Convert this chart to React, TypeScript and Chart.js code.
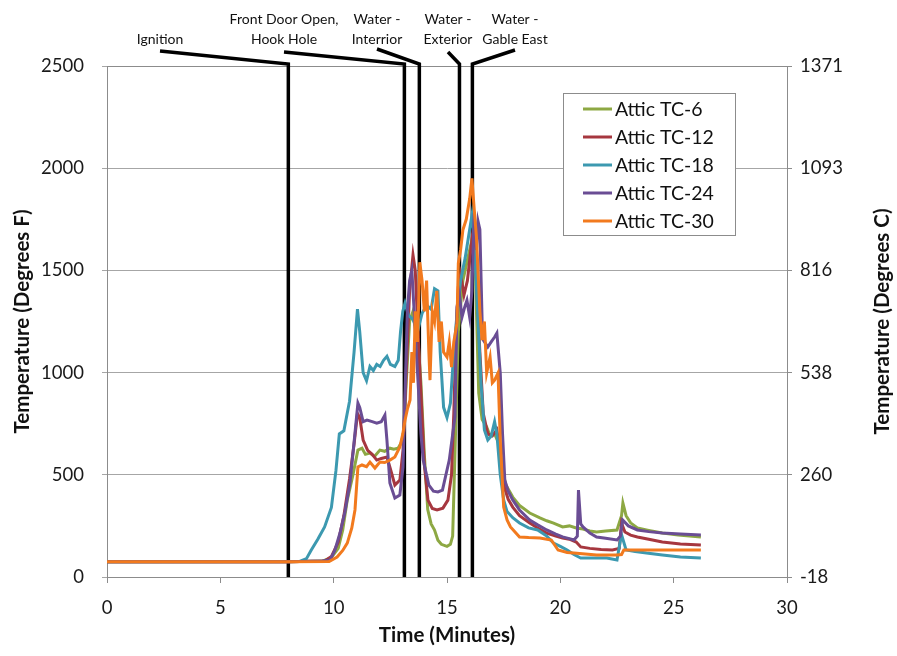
import React, { useEffect, useRef } from "react";
import { Chart, registerables } from "chart.js";

Chart.register(...registerables);

// ---------- data (time in minutes, temperature in °F) ----------
const tc6Time = [0, 8, 9.5, 9.9, 10.2, 10.4, 10.6, 10.85, 11.07, 11.25, 11.4, 11.6, 11.8, 12.04, 12.25, 12.48, 12.65, 12.84, 13.0, 13.1, 13.2, 13.35, 13.5, 13.6, 13.72, 13.85, 14.0, 14.15, 14.3, 14.45, 14.6, 14.75, 15.0, 15.15, 15.25, 15.3, 15.4, 15.5, 15.7, 15.9, 16.1, 16.25, 16.4, 16.55, 16.75, 16.9, 17.1, 17.3, 17.45, 17.6, 17.9, 18.2, 18.65, 19.1, 19.4, 19.7, 20.1, 20.4, 20.7, 21.0, 21.3, 21.6, 22.0, 22.5, 22.7, 22.76, 22.9, 23.1, 23.4, 23.9, 24.5, 25.2, 26.2];
const tc6Temp = [75, 75, 78, 95, 140, 230, 376, 500, 621, 630, 600, 606, 590, 621, 615, 630, 625, 630, 660, 720, 950, 1250, 1300, 1220, 1160, 950, 600, 330, 260, 230, 180, 160, 150, 160, 200, 400, 800, 1200, 1450, 1550, 1650, 1500, 900, 770, 734, 690, 700, 650, 520, 450, 391, 350, 313, 289, 275, 264, 245, 250, 240, 235, 225, 220, 225, 230, 300, 362, 300, 265, 240, 228, 215, 205, 196];

const tc12Time = [0, 8, 9.6, 9.9, 10.2, 10.45, 10.7, 10.9, 11.05, 11.15, 11.3, 11.5, 11.7, 11.9, 12.1, 12.35, 12.5, 12.7, 12.92, 13.06, 13.2, 13.35, 13.5, 13.6, 13.7, 13.85, 14.0, 14.16, 14.35, 14.56, 14.82, 15.04, 15.2, 15.3, 15.4, 15.5, 15.6, 15.75, 15.9, 16.05, 16.15, 16.3, 16.45, 16.6, 16.8, 17.0, 17.2, 17.35, 17.5, 17.7, 17.9, 18.2, 18.65, 19.0, 19.4, 19.8, 20.1, 20.4, 20.7, 20.9, 21.3, 21.8, 22.3, 22.6, 22.7, 22.85, 23.1, 23.4, 23.9, 24.5, 25.3, 26.2];
const tc12Temp = [75, 75, 78, 100, 170, 300, 480, 650, 800, 780, 670, 620, 600, 572, 580, 587, 530, 450, 474, 621, 1000, 1400, 1575, 1500, 1250, 900, 550, 376, 335, 328, 337, 376, 500, 800, 1200, 1420, 1480, 1380, 1450, 1600, 1700, 1450, 1100, 800, 700, 690, 720, 600, 450, 380, 342, 300, 264, 240, 215, 200, 191, 185, 171, 147, 140, 135, 132, 140, 264, 220, 205, 196, 185, 171, 162, 156];

const tc18Time = [0, 8.5, 8.8, 9.0, 9.3, 9.6, 9.9, 10.1, 10.25, 10.45, 10.7, 10.9, 11.05, 11.15, 11.3, 11.45, 11.6, 11.75, 11.9, 12.05, 12.2, 12.35, 12.5, 12.7, 12.85, 12.95, 13.05, 13.15, 13.3, 13.5, 13.7, 13.9, 14.1, 14.3, 14.45, 14.6, 14.7, 14.85, 15.0, 15.15, 15.3, 15.45, 15.6, 15.8, 16.0, 16.1, 16.2, 16.35, 16.5, 16.65, 16.8, 16.95, 17.1, 17.2, 17.35, 17.5, 17.65, 17.9, 18.2, 18.6, 19.0, 19.4, 19.7, 20.0, 20.3, 20.6, 20.9, 21.5, 22.05, 22.5, 22.65, 22.72, 22.9, 23.3, 23.8, 24.5, 25.3, 26.2];
const tc18Temp = [75, 76, 90, 130, 185, 245, 340, 520, 700, 715, 860, 1100, 1310, 1200, 1000, 960, 1030, 1010, 1040, 1030, 1060, 1080, 1040, 1030, 1060, 1200, 1300, 1340, 1280, 1260, 1200, 1290, 1330, 1310, 1410, 1400, 1100, 830, 780, 850, 1100, 1300, 1450, 1560, 1700, 1770, 1650, 1300, 950, 720, 670, 690, 760, 700, 500, 377, 320, 290, 264, 240, 230, 200, 166, 150, 132, 110, 93, 93, 93, 83, 180, 200, 132, 125, 117, 108, 98, 93];

const tc24Time = [0, 8, 9.5, 9.84, 10.05, 10.28, 10.5, 10.72, 10.94, 11.07, 11.15, 11.3, 11.47, 11.7, 11.9, 12.1, 12.26, 12.35, 12.48, 12.7, 12.92, 13.06, 13.15, 13.25, 13.35, 13.45, 13.55, 13.7, 13.85, 13.95, 14.2, 14.4, 14.6, 14.8, 15.1, 15.35, 15.44, 15.55, 15.66, 15.78, 15.88, 16.0, 16.1, 16.2, 16.3, 16.37, 16.45, 16.55, 16.6, 16.8, 16.95, 17.1, 17.2, 17.35, 17.45, 17.55, 17.7, 17.9, 18.2, 18.65, 19.0, 19.4, 19.8, 20.1, 20.4, 20.6, 20.75, 20.8, 20.9, 21.0, 21.3, 21.6, 22.0, 22.5, 22.65, 22.75, 23.0, 23.4, 23.9, 24.5, 25.3, 26.2];
const tc24Temp = [75, 75, 78, 83, 130, 215, 320, 460, 704, 851, 830, 760, 768, 760, 753, 760, 792, 670, 460, 386, 401, 538, 900, 1300, 1450, 1500, 1300, 1000, 700, 572, 450, 420, 416, 425, 572, 782, 1320, 1380, 1271, 1320, 1354, 1271, 1400, 1780, 1600, 1740, 1700, 1250, 1159, 1125, 1150, 1174, 1193, 998, 700, 474, 420, 377, 328, 279, 255, 230, 210, 196, 188, 181, 200, 425, 260, 245, 215, 196, 190, 181, 200, 279, 250, 230, 222, 215, 210, 205];

const tc30Time = [0, 8, 9.8, 10.15, 10.4, 10.6, 10.8, 10.94, 11.07, 11.25, 11.45, 11.6, 11.82, 12.04, 12.25, 12.48, 12.7, 12.92, 13.05, 13.15, 13.25, 13.37, 13.45, 13.52, 13.6, 13.7, 13.8, 13.9, 14.0, 14.1, 14.2, 14.25, 14.35, 14.45, 14.55, 14.65, 14.75, 14.85, 15.0, 15.1, 15.2, 15.3, 15.44, 15.5, 15.6, 15.7, 15.85, 16.0, 16.1, 16.2, 16.3, 16.45, 16.55, 16.65, 16.75, 16.9, 17.0, 17.1, 17.25, 17.35, 17.5, 17.65, 17.8, 18.2, 18.6, 19.1, 19.6, 19.9, 20.3, 20.6, 21.1, 21.6, 22.0, 22.5, 22.7, 22.8, 23.2, 23.8, 24.5, 25.3, 26.2];
const tc30Temp = [75, 75, 76, 98, 130, 166, 240, 328, 538, 548, 540, 562, 533, 562, 560, 572, 587, 636, 700, 768, 820, 866, 1100, 950, 1300, 1150, 1540, 1450, 1300, 1450, 1100, 963, 1300, 1250, 1400, 1150, 1250, 1100, 1076, 1150, 1027, 1150, 1242, 1535, 1600, 1697, 1750, 1850, 1950, 1800, 1663, 1300, 1159, 1250, 998, 1076, 950, 963, 998, 670, 342, 279, 245, 196, 193, 191, 181, 132, 120, 117, 112, 108, 108, 108, 110, 132, 132, 132, 132, 132, 132];

const seriesNames = ["Attic TC-6", "Attic TC-12", "Attic TC-18", "Attic TC-24", "Attic TC-30"];
const seriesColors = ["#8DA843", "#A6373F", "#3C99B0", "#6A4D94", "#F27A1E"];

const eventTimes = [8.0, 13.12, 13.78, 15.55, 16.12];
const eventLabels = [["Ignition"], ["Front Door Open,", "Hook Hole"], ["Water -", "Interrior"], ["Water -", "Exterior"], ["Water -", "Gable East"]];

const xTicksStep = 5;
const yTicksStep = 500;
const rightAxisTitle = "Temperature (Degrees C)";

const FONT = "Lato, 'Open Sans', sans-serif";

function toPoints(t: number[], v: number[]) {
  return t.map((x, i) => ({ x, y: v[i] }));
}

const decorPlugin = {
  id: "decor",
  beforeDatasetsDraw(chart: any) {
    const { ctx, chartArea, scales } = chart;
    const { left, right, top, bottom } = chartArea;
    ctx.save();
    // plot area border
    ctx.strokeStyle = "#8c8c8c";
    ctx.lineWidth = 1;
    ctx.strokeRect(left + 0.5, top + 0.5, right - left, bottom - top);
    // event markers
    const labelX = [160, 284, 377, 448, 515];
    const leaderY = [51, 52, 49, 52, 50];
    ctx.strokeStyle = "#000";
    ctx.lineWidth = 3.5;
    ctx.lineJoin = "miter";
    eventTimes.forEach((t, i) => {
      const px = scales.x.getPixelForValue(t);
      ctx.beginPath();
      ctx.moveTo(labelX[i], leaderY[i]);
      ctx.lineTo(px, top - 2);
      ctx.lineTo(px, bottom);
      ctx.stroke();
    });
    ctx.fillStyle = "#111";
    ctx.font = `14px ${FONT}`;
    ctx.textAlign = "center";
    ctx.textBaseline = "middle";
    eventLabels.forEach((lines, i) => {
      const ys = lines.length === 1 ? [39] : [19, 39];
      lines.forEach((s, j) => ctx.fillText(s, labelX[i], ys[j]));
    });
    // right axis title, reading bottom to top
    ctx.save();
    ctx.translate(882, (top + bottom) / 2);
    ctx.rotate(-Math.PI / 2);
    ctx.font = `bold 20.5px ${FONT}`;
    ctx.fillStyle = "#111";
    ctx.fillText(rightAxisTitle, 0, 0);
    ctx.restore();
    ctx.restore();
  },
  afterDatasetsDraw(chart: any) {
    const { ctx } = chart;
    ctx.save();
    const bx = 563.5, by = 93.5, bw = 172, bh = 142;
    ctx.fillStyle = "#fff";
    ctx.fillRect(bx, by, bw, bh);
    ctx.strokeStyle = "#8c8c8c";
    ctx.lineWidth = 1;
    ctx.strokeRect(bx, by, bw, bh);
    ctx.font = `19.5px ${FONT}`;
    ctx.textAlign = "left";
    ctx.textBaseline = "middle";
    seriesNames.forEach((name, i) => {
      const y = 109 + i * 28;
      ctx.strokeStyle = seriesColors[i];
      ctx.lineWidth = 3;
      ctx.beginPath();
      ctx.moveTo(583, y);
      ctx.lineTo(612, y);
      ctx.stroke();
      ctx.fillStyle = "#111";
      ctx.fillText(name, 615, y + 1);
    });
    ctx.restore();
  },
};

export default function App() {
  const ref = useRef<HTMLCanvasElement>(null);
  useEffect(() => {
    if (!ref.current) return;
    const times = [tc6Time, tc12Time, tc18Time, tc24Time, tc30Time];
    const temps = [tc6Temp, tc12Temp, tc18Temp, tc24Temp, tc30Temp];
    const tickFont = { family: FONT, size: 18.5 };
    const titleFont = { family: FONT, size: 20.5, weight: "bold" as const };
    const chart = new Chart(ref.current, {
      type: "line",
      data: {
        datasets: seriesNames.map((name, i) => ({
          label: name,
          data: toPoints(times[i], temps[i]),
          borderColor: seriesColors[i],
          backgroundColor: seriesColors[i],
          borderWidth: 3,
          pointRadius: 0,
          tension: 0,
          fill: false,
          order: 5 - i,
        })),
      },
      options: {
        responsive: false,
        animation: false,
        layout: { padding: { top: 66, left: 0, right: 0, bottom: 0 } },
        plugins: { legend: { display: false }, tooltip: { enabled: false } },
        scales: {
          x: {
            type: "linear",
            min: 0,
            max: 30,
            ticks: { stepSize: xTicksStep, font: tickFont, color: "#1a1a1a", padding: 14, callback: (v: any) => String(v) },
            grid: { drawOnChartArea: false, drawTicks: true, tickLength: 6, color: "#8c8c8c" },
            border: { display: true, color: "#8c8c8c" },
            title: { display: true, text: "Time (Minutes)", font: titleFont, color: "#111", padding: { top: 0, bottom: 8 } },
            afterFit: (s: any) => { s.height = 79; },
          },
          y: {
            type: "linear",
            position: "left",
            min: 0,
            max: 2500,
            ticks: { stepSize: yTicksStep, font: tickFont, color: "#1a1a1a", padding: 18, callback: (v: any) => String(v) },
            grid: { color: "#a6a6a6", tickLength: 5 },
            border: { display: true, color: "#8c8c8c" },
            title: { display: true, text: "Temperature (Degrees F)", font: titleFont, color: "#111", padding: { top: 10, bottom: 0 } },
            afterFit: (s: any) => { s.width = 107; },
          },
          y2: {
            type: "linear",
            position: "right",
            min: 0,
            max: 2500,
            ticks: {
              stepSize: yTicksStep,
              font: tickFont,
              color: "#1a1a1a",
              padding: 8,
              callback: (v: any) => String(Math.round(((Number(v) - 32) * 5) / 9)),
            },
            grid: { drawOnChartArea: false, drawTicks: true, tickLength: 5, color: "#8c8c8c" },
            border: { display: true, color: "#8c8c8c" },
            title: { display: false },
            afterFit: (s: any) => { s.width = 110; },
          },
        },
      },
      plugins: [decorPlugin],
    });
    return () => chart.destroy();
  }, []);
  return (
    <div style={{ position: "absolute", left: 0, top: 0, width: 897, height: 656, background: "#fff" }}>
      <canvas ref={ref} width={897} height={656} />
    </div>
  );
}
